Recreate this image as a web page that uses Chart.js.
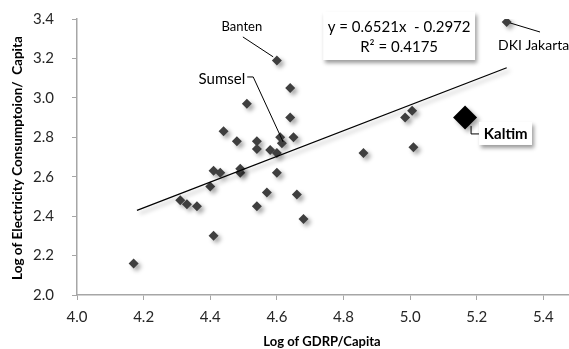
<!DOCTYPE html>
<html>
<head>
<meta charset="utf-8">
<script src="https://cdn.jsdelivr.net/npm/chart.js@4.4.1/dist/chart.umd.min.js"></script>
<style>
    html, body { margin: 0; padding: 0; background: #fff; }
    #wrap { position: relative; width: 569px; height: 349px; }
</style>
</head>
<body>
<div id="wrap"><canvas id="chart" width="569" height="349"></canvas></div>
<script>
    'use strict';

    // provinces: log GDRP/capita vs log electricity consumption/capita
    const gdrpLog = [4.17, 4.31, 4.33, 4.36, 4.40, 4.41, 4.41, 4.43, 4.49, 4.49,
        4.44, 4.48, 4.51, 4.54, 4.54, 4.54, 4.57, 4.58, 4.60, 4.60,
        4.60, 4.61, 4.615, 4.64, 4.64, 4.65, 4.66, 4.68, 4.86, 4.985,
        5.006, 5.01, 5.29];
    const elecLog = [2.16, 2.48, 2.46, 2.45, 2.55, 2.30, 2.63, 2.62, 2.62, 2.64,
        2.83, 2.78, 2.97, 2.78, 2.74, 2.45, 2.52, 2.735, 2.72, 2.62,
        3.19, 2.80, 2.77, 3.05, 2.90, 2.80, 2.51, 2.385, 2.72, 2.90,
        2.935, 2.75, 3.385];

    const kaltimX = [5.165];
    const kaltimY = [2.90];

    const trendX = [4.18, 5.29];
    const trendY = [2.429, 3.153];

    const xTicks = [4.0, 4.2, 4.4, 4.6, 4.8, 5.0, 5.2, 5.4];
    const yTicks = [2.0, 2.2, 2.4, 2.6, 2.8, 3.0, 3.2, 3.4];

    const equationLines = ['y = 0.6521x  - 0.2972', 'R² = 0.4175'];

    const FONT = 'Lato, "Liberation Sans", sans-serif';
    const AXIS_GRAY = '#a6a6a6';

    function toPoints(xs, ys) {
        return xs.map(function(x, i) { return { x: x, y: ys[i] }; });
    }

    // shadow under markers and trend line
    const shadowPlugin = {
        id: 'shadow',
        beforeDatasetsDraw: function(chart) {
            const ctx = chart.ctx;
            ctx.save();
            ctx.shadowColor = 'rgba(0,0,0,0.35)';
            ctx.shadowBlur = 4;
            ctx.shadowOffsetX = 3;
            ctx.shadowOffsetY = 3;
        },
        afterDatasetsDraw: function(chart) {
            chart.ctx.restore();
        }
    };

    // callouts, equation box and axis titles
    const labelsPlugin = {
        id: 'labels',
        afterDraw: function(chart) {
            const ctx = chart.ctx;
            const sx = chart.scales.x;
            const sy = chart.scales.y;
            const px = v => sx.getPixelForValue(v);
            const py = v => sy.getPixelForValue(v);

            function path(pts) {
                ctx.beginPath();
                pts.forEach(function(p, i) {
                    if (i === 0) ctx.moveTo(px(p[0]), py(p[1]));
                    else ctx.lineTo(px(p[0]), py(p[1]));
                });
                ctx.strokeStyle = '#000';
                ctx.lineWidth = 1;
                ctx.stroke();
            }

            function shadowBox(x0, y0, x1, y1) {
                const l = px(x0), t = py(y0), r = px(x1), b = py(y1);
                ctx.save();
                ctx.shadowColor = 'rgba(0,0,0,0.4)';
                ctx.shadowBlur = 4;
                ctx.shadowOffsetX = 2;
                ctx.shadowOffsetY = 3;
                ctx.fillStyle = '#fff';
                ctx.fillRect(l, t, r - l, b - t);
                ctx.restore();
            }

            ctx.save();
            ctx.fillStyle = '#000';
            ctx.textBaseline = 'middle';

            // Banten
            ctx.font = '13px ' + FONT;
            ctx.textAlign = 'center';
            ctx.fillText('Banten', px(4.495), py(3.36));
            path([[4.498, 3.309], [4.589, 3.208]]);

            // Sumsel
            ctx.font = '15px ' + FONT;
            ctx.fillText('Sumsel', px(4.435), py(3.096));
            path([[4.511, 3.106], [4.529, 3.106], [4.619, 2.776]]);

            // DKI Jakarta
            ctx.font = '14px ' + FONT;
            ctx.textAlign = 'left';
            ctx.fillText('DKI Jakarta', px(5.264), py(3.268));
            path([[5.30, 3.38], [5.39, 3.334]]);

            // Kaltim
            path([[5.183, 2.857], [5.183, 2.817], [5.207, 2.817]]);
            shadowBox(5.207, 2.878, 5.366, 2.761);
            ctx.font = 'bold 15px ' + FONT;
            ctx.textAlign = 'center';
            ctx.fillStyle = '#000';
            ctx.fillText('Kaltim', px(5.287), py(2.818));

            // regression equation
            shadowBox(4.739, 3.436, 5.195, 3.192);
            ctx.font = '15px ' + FONT;
            ctx.fillStyle = '#000';
            ctx.fillText(equationLines[0], px(4.967), py(3.36));
            ctx.fillText(equationLines[1], px(4.967), py(3.258));

            // axis titles
            ctx.font = 'bold 13px ' + FONT;
            ctx.fillText('Log of GDRP/Capita', 322, 342);
            ctx.font = 'bold 13.5px ' + FONT;
            ctx.translate(18, 158);
            ctx.rotate(-Math.PI / 2);
            ctx.fillText('Log of Electricity Consumptoion/  Capita', 0, 0);
            ctx.restore();
        }
    };

    function fixedTicks(list) {
        return function(scale) {
            scale.ticks = list.map(v => ({ value: v }));
        };
    }

    function noPadding(scale) {
        scale.paddingLeft = 0;
        scale.paddingRight = 0;
        scale.paddingTop = 0;
        scale.paddingBottom = 0;
    }

    new Chart(document.getElementById('chart').getContext('2d'), {
        type: 'scatter',
        data: {
            datasets: [{
                type: 'line',
                data: toPoints(trendX, trendY),
                borderColor: '#000',
                borderWidth: 1.2,
                pointRadius: 0,
                fill: false
            }, {
                data: toPoints(gdrpLog, elecLog),
                pointStyle: 'rectRot',
                pointRadius: 5,
                backgroundColor: '#3f3f3f',
                borderColor: '#3f3f3f',
                borderWidth: 0
            }, {
                data: toPoints(kaltimX, kaltimY),
                pointStyle: 'rectRot',
                pointRadius: 12,
                backgroundColor: '#000',
                borderColor: '#000',
                borderWidth: 0
            }]
        },
        options: {
            responsive: false,
            animation: false,
            layout: {
                autoPadding: false,
                padding: { top: 19, right: 0, left: 0, bottom: 0 }
            },
            plugins: {
                legend: { display: false },
                tooltip: { enabled: false }
            },
            scales: {
                x: {
                    type: 'linear',
                    min: 4.0,
                    max: 5.477,
                    afterBuildTicks: fixedTicks(xTicks),
                    afterFit: function(scale) { scale.height = 54; noPadding(scale); },
                    border: { color: AXIS_GRAY, width: 1.5 },
                    grid: { drawOnChartArea: false, tickLength: 5, color: AXIS_GRAY },
                    ticks: {
                        padding: 8,
                        color: '#262626',
                        font: { family: FONT, size: 15 },
                        callback: v => Number(v).toFixed(1)
                    }
                },
                y: {
                    type: 'linear',
                    min: 2.0,
                    max: 3.4,
                    afterBuildTicks: fixedTicks(yTicks),
                    afterFit: function(scale) { scale.width = 77; noPadding(scale); },
                    border: { color: AXIS_GRAY, width: 1.5 },
                    grid: { drawOnChartArea: false, tickLength: 5, color: AXIS_GRAY },
                    ticks: {
                        padding: 18,
                        color: '#262626',
                        font: { family: FONT, size: 15 },
                        callback: v => Number(v).toFixed(1)
                    }
                }
            }
        },
        plugins: [shadowPlugin, labelsPlugin]
    });
</script>
</body>
</html>
